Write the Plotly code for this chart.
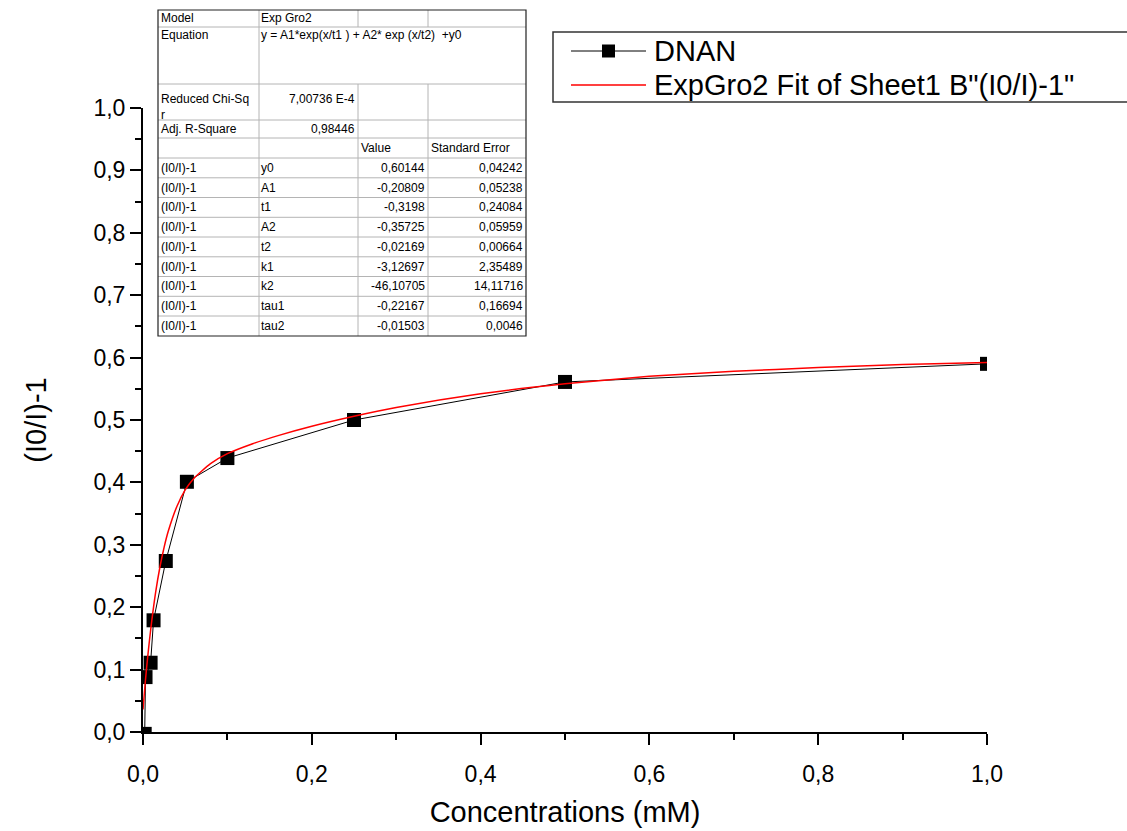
import plotly.graph_objects as go

# ---------------- data ----------------
conc = [0.002, 0.003, 0.009, 0.0125, 0.027, 0.052, 0.1, 0.25, 0.5, 1.0]
response = [-0.003, 0.088, 0.111, 0.179, 0.274, 0.401, 0.439, 0.500, 0.561, 0.590]

fit_x = [0, 0.0025, 0.005, 0.0075, 0.01, 0.015, 0.02, 0.025, 0.03, 0.04, 0.05, 0.06,
         0.08, 0.1, 0.13, 0.16, 0.2, 0.25, 0.3, 0.4, 0.5, 0.6, 0.7, 0.8, 0.9, 1.0]
fit_y = [0.036, 0.077, 0.113, 0.145, 0.174, 0.224, 0.264, 0.296, 0.322, 0.361, 0.388, 0.406,
         0.430, 0.446, 0.462, 0.475, 0.490, 0.506, 0.520, 0.542, 0.558, 0.570, 0.578, 0.584,
         0.589, 0.592]

x_ticks = [0, 0.2, 0.4, 0.6, 0.8, 1.0]
x_ticklabels = ["0,0", "0,2", "0,4", "0,6", "0,8", "1,0"]
y_ticks = [0, 0.1, 0.2, 0.3, 0.4, 0.5, 0.6, 0.7, 0.8, 0.9, 1.0]
y_ticklabels = ["0,0", "0,1", "0,2", "0,3", "0,4", "0,5", "0,6", "0,7", "0,8", "0,9", "1,0"]

series_name = "DNAN"
fit_name = 'ExpGro2 Fit of Sheet1 B"(I0/I)-1"'
x_title = "Concentrations (mM)"
y_title = "(I0/I)-1"

# table contents
model_name = "Exp Gro2"
equation = "y = A1*exp(x/t1 ) + A2* exp (x/t2)  +y0"
chi_sqr = "7,00736 E-4"
adj_r2 = "0,98446"
row_label = "(I0/I)-1"
param_names = ["y0", "A1", "t1", "A2", "t2", "k1", "k2", "tau1", "tau2"]
param_values = ["0,60144", "-0,20809", "-0,3198", "-0,35725", "-0,02169",
                "-3,12697", "-46,10705", "-0,22167", "-0,01503"]
param_errors = ["0,04242", "0,05238", "0,24084", "0,05959", "0,00664",
                "2,35489", "14,11716", "0,16694", "0,0046"]

# ---------------- layout geometry (pixels) ----------------
L, R, T, B = 143, 987, 108, 732
W, H = R - L, B - T
FONT = "Liberation Sans, Arial, sans-serif"


def px(x):
    return (x - L) / W


def py(y):
    return (B - y) / H


fig = go.Figure()
fig.add_trace(go.Scatter(
    x=conc, y=response, mode="lines+markers", name=series_name,
    line=dict(color="black", width=1),
    marker=dict(symbol="square", size=14, color="black", line=dict(width=0)),
))
fig.add_trace(go.Scatter(
    x=fit_x, y=fit_y, mode="lines", name=fit_name,
    line=dict(color="#ff0000", width=1.5, shape="spline", smoothing=0.6),
))

axis_common = dict(
    showline=True, linecolor="black", linewidth=2, mirror=False,
    ticks="outside", ticklen=11, tickwidth=2, tickcolor="black",
    showgrid=False, zeroline=False,
    tickfont=dict(family=FONT, size=23, color="black"),
)

fig.update_xaxes(
    range=[0, 1.0], tickvals=x_ticks, ticktext=x_ticklabels,
    minor=dict(ticks="outside", ticklen=6, tickwidth=2, tickcolor="black", dtick=0.1, showgrid=False),
    title=dict(text=x_title, font=dict(family=FONT, size=29, color="black"), standoff=16),
    ticklabelstandoff=9,
    **axis_common,
)
fig.update_yaxes(
    range=[0, 1.0], tickvals=y_ticks, ticktext=y_ticklabels,
    minor=dict(ticks="outside", ticklen=6, tickwidth=2, tickcolor="black", dtick=0.05, showgrid=False),
    title=dict(text=y_title, font=dict(family=FONT, size=29, color="black"), standoff=38),
    **axis_common,
)

# ---------------- fit-results table ----------------
shapes = []
annotations = []
tl, tr, tt, tb = 158, 526, 10, 336
col_x = [158, 259, 358, 428, 526]
row_y = [10, 27, 84, 120, 138, 158, 177.8, 197.5, 217.3, 237, 256.8, 276.5, 296.3, 316, 336]
grid = "#b4b4b4"

for yy in row_y[1:-1]:
    shapes.append(dict(type="line", xref="paper", yref="paper",
                       x0=px(tl), x1=px(tr), y0=py(yy), y1=py(yy),
                       line=dict(color=grid, width=1)))
for i, xx in enumerate(col_x[1:-1]):
    if i == 0:
        shapes.append(dict(type="line", xref="paper", yref="paper",
                           x0=px(xx), x1=px(xx), y0=py(tt), y1=py(tb),
                           line=dict(color=grid, width=1)))
    else:
        shapes.append(dict(type="line", xref="paper", yref="paper",
                           x0=px(xx), x1=px(xx), y0=py(tt), y1=py(row_y[1]),
                           line=dict(color=grid, width=1)))
        shapes.append(dict(type="line", xref="paper", yref="paper",
                           x0=px(xx), x1=px(xx), y0=py(row_y[2]), y1=py(tb),
                           line=dict(color=grid, width=1)))
shapes.append(dict(type="rect", xref="paper", yref="paper",
                   x0=px(tl), x1=px(tr), y0=py(tb), y1=py(tt),
                   line=dict(color="#222222", width=1.2), fillcolor="rgba(0,0,0,0)"))

TF = dict(family=FONT, size=12, color="black")


def cell(text, x, y, anchor="left", yanchor="middle", font=TF):
    annotations.append(dict(text=text, xref="paper", yref="paper", x=px(x), y=py(y),
                            xanchor=anchor, yanchor=yanchor, showarrow=False, font=font,
                            borderpad=0, align=anchor if anchor != "center" else "center"))


cell("Model", 160, 18.5)
cell(model_name, 260, 18.5)
cell("Equation", 160, 27, yanchor="top")
cell(equation, 260, 27, yanchor="top")
cell("Reduced Chi-Sq<br>r", 160, 91, yanchor="top")
cell(chi_sqr, 356, 91, anchor="right", yanchor="top")
cell("Adj. R-Square", 160, 129)
cell(adj_r2, 356, 129, anchor="right")
cell("Value", 360, 148)
cell("Standard Error", 430, 148)
for i, (n, v, e) in enumerate(zip(param_names, param_values, param_errors)):
    yc = (row_y[5 + i] + row_y[6 + i]) / 2
    cell(row_label, 160, yc)
    cell(n, 260, yc)
    cell(v, 426, yc, anchor="right")
    cell(e, 524, yc, anchor="right")

# ---------------- legend box (drawn, reference-style) ----------------
LF = dict(family=FONT, size=29, color="black")
ROW1, ROW2 = 51, 85
shapes.append(dict(type="rect", xref="paper", yref="paper",
                   x0=px(553), x1=px(1135), y0=py(102), y1=py(32),
                   line=dict(color="#333333", width=1.5), fillcolor="white", layer="above"))
shapes.append(dict(type="line", xref="paper", yref="paper",
                   x0=px(571), x1=px(646), y0=py(ROW1), y1=py(ROW1),
                   line=dict(color="black", width=1)))
shapes.append(dict(type="rect", xref="paper", yref="paper",
                   x0=px(602), x1=px(615), y0=py(ROW1 + 6.5), y1=py(ROW1 - 6.5),
                   line=dict(width=0), fillcolor="black"))
shapes.append(dict(type="line", xref="paper", yref="paper",
                   x0=px(571), x1=px(646), y0=py(ROW2), y1=py(ROW2),
                   line=dict(color="#ff0000", width=1.5)))
cell(series_name, 653, ROW1, font=LF)
cell(fit_name, 653, ROW2, font=LF)

fig.update_layout(
    width=1127, height=831,
    margin=dict(l=L, r=1127 - R, t=T, b=831 - B, autoexpand=False),
    paper_bgcolor="white", plot_bgcolor="white",
    showlegend=False,
    shapes=shapes,
    annotations=annotations,
    font=dict(family=FONT, color="black"),
)

fig.write_html("out.html")
